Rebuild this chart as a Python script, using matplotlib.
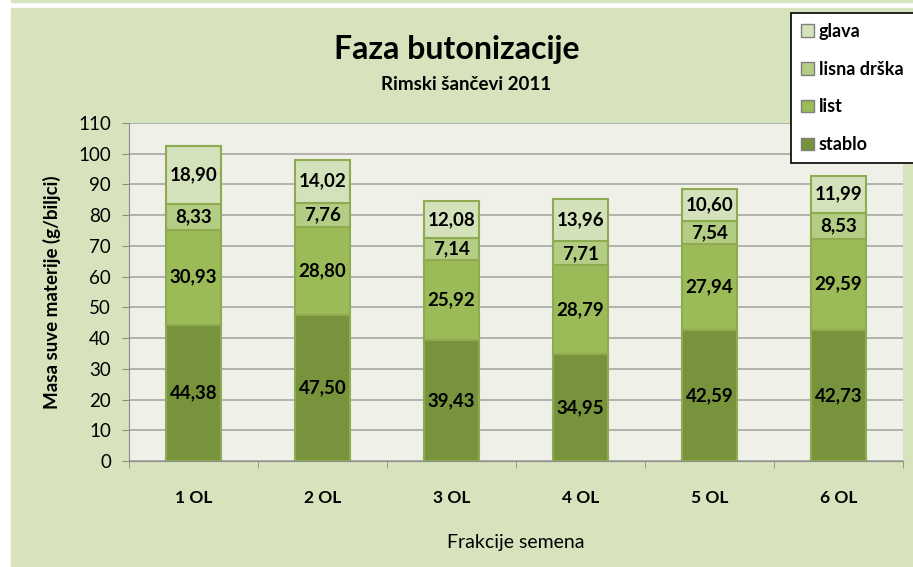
import matplotlib.pyplot as plt
from matplotlib.patches import Rectangle, Patch

plt.rcParams['font.family'] = ['Lato', 'DejaVu Sans']

categories = ['1 OL', '2 OL', '3 OL', '4 OL', '5 OL', '6 OL']
stablo = [44.38, 47.50, 39.43, 34.95, 42.59, 42.73]
list_ = [30.93, 28.80, 25.92, 28.79, 27.94, 29.59]
lisna_drska = [8.33, 7.76, 7.14, 7.71, 7.54, 8.53]
glava = [18.90, 14.02, 12.08, 13.96, 10.60, 11.99]

series = [
    ('stablo', stablo, '#77933c'),
    ('list', list_, '#9bbb59'),
    ('lisna drška', lisna_drska, '#b3cd85'),
    ('glava', glava, '#d4e2bb'),
]

W, H = 913, 567
fig = plt.figure(figsize=(W / 100, H / 100), dpi=100, facecolor='white')

# green chart background with a thin strip on top
fig.patches.append(Rectangle((11 / W, 0), 1 - 11 / W, 1 - 8 / H,
                             transform=fig.transFigure, color='#d7e3bd', zorder=-10))
fig.patches.append(Rectangle((11 / W, 1 - 2 / H), 1 - 11 / W, 2 / H,
                             transform=fig.transFigure, color='#d7e3bd', zorder=-10))

ax = fig.add_axes([129 / W, 1 - 461 / H, (903 - 129) / W, (461 - 123) / H])
ax.set_facecolor('#eff1e9')

x = range(len(categories))
bottom = [0] * len(categories)
for name, vals, color in series:
    bars = ax.bar(x, vals, width=0.42, bottom=bottom, color=color,
                  edgecolor='#8eab50', linewidth=1.5, label=name, zorder=3)
    for b, v, b0 in zip(bars, vals, bottom):
        ax.text(b.get_x() + b.get_width() / 2, b0 + v / 2,
                f'{v:.2f}'.replace('.', ','), ha='center', va='center',
                fontsize=13.5, fontweight='bold', color='black', zorder=4)
    bottom = [b0 + v for b0, v in zip(bottom, vals)]

ax.set_ylim(0, 110)
ax.set_xlim(-0.5, 5.5)
ax.set_yticks(range(0, 111, 10))
ax.yaxis.grid(True, color='#a6a6a6', linewidth=1.2, zorder=0)
ax.set_axisbelow(True)
ax.set_xticks(list(x))
ax.set_xticklabels(categories, fontsize=12.5, fontweight='bold')
ax.set_xticks([i + 0.5 for i in range(-1, 6)], minor=True)
ax.tick_params(axis='x', which='major', length=0, pad=21)
ax.tick_params(axis='x', which='minor', length=5, color='#8c8c8c')
ax.tick_params(axis='y', length=5, color='#8c8c8c', labelsize=13.5, pad=8)
for s in ['top', 'right']:
    ax.spines[s].set_visible(False)
for s in ['left', 'bottom']:
    ax.spines[s].set_color('#8c8c8c')

ax.set_ylabel('Masa suve materije (g/biljci)', fontsize=13.5, fontweight='bold', labelpad=12)
ax.set_xlabel('Frakcije semena', fontsize=14, labelpad=20)

fig.text(457 / W, 1 - 49 / H, 'Faza butonizacije', ha='center', va='center',
         fontsize=23, fontweight='bold')
fig.text(466 / W, 1 - 85 / H, 'Rimski šančevi 2011', ha='center', va='center',
         fontsize=13.5, fontweight='bold')

handles = [Patch(facecolor=c, edgecolor='#7f7f7f', label=n) for n, _, c in reversed(series)]
leg = fig.legend(handles=handles, loc='upper left', bbox_to_anchor=(791 / W, 1 - 13 / H),
                 frameon=True, fancybox=False, edgecolor='black', framealpha=1,
                 prop={'size': 13, 'weight': 'bold'}, labelspacing=1.15,
                 handlelength=0.7, handleheight=0.7, handletextpad=0.3,
                 borderpad=0.55, borderaxespad=0)
leg.get_frame().set_linewidth(1.2)

fig.savefig('out.png', dpi=100, facecolor=fig.get_facecolor())
